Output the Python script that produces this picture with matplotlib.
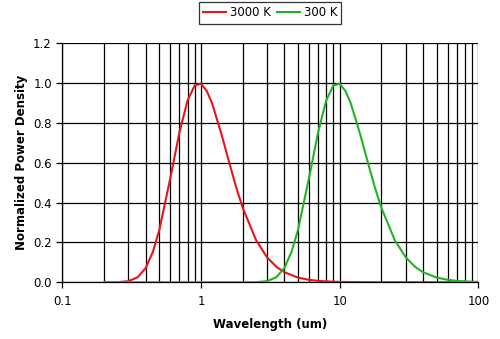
import matplotlib
matplotlib.use('Agg')
import matplotlib.pyplot as plt
from matplotlib.ticker import LogLocator, NullFormatter, FixedLocator

# wavelength samples (um) and normalized power density
WL_3000 = [0.2, 0.25, 0.3, 0.35, 0.4, 0.45, 0.5, 0.6, 0.7, 0.8, 0.9, 1.0, 1.1, 1.2, 1.4,
           1.6, 1.8, 2.0, 2.5, 3.0, 3.5, 4.0, 5.0, 6.0, 7.0, 8.0, 10.0, 15.0, 20.0, 30.0, 50.0, 100.0]
P_3000 = [0.0, 0.0006, 0.0056, 0.0255, 0.0726, 0.153, 0.261, 0.520, 0.754, 0.912, 0.988, 0.997,
          0.961, 0.901, 0.748, 0.600, 0.474, 0.374, 0.211, 0.125, 0.0776, 0.0504, 0.0238, 0.0126,
          0.0072, 0.0045, 0.0019, 0.0004, 0.0001, 0.0, 0.0, 0.0]

WL_300 = [0.2, 0.5, 1.0, 2.0, 2.5, 3.0, 3.5, 4.0, 4.5, 5.0, 6.0, 7.0, 8.0, 9.0, 10.0, 11.0, 12.0,
          14.0, 16.0, 18.0, 20.0, 25.0, 30.0, 35.0, 40.0, 50.0, 60.0, 70.0, 80.0, 100.0]
P_300 = [0.0, 0.0, 0.0, 0.0, 0.0006, 0.0056, 0.0255, 0.0726, 0.153, 0.261, 0.520, 0.754, 0.912,
         0.988, 0.997, 0.961, 0.901, 0.748, 0.600, 0.474, 0.374, 0.211, 0.125, 0.0776, 0.0504,
         0.0238, 0.0126, 0.0072, 0.0045, 0.0019]

X_TICKS = [0.1, 1, 10, 100]
X_LABELS = ['0.1', '1', '10', '100']
Y_TICKS = [0.0, 0.2, 0.4, 0.6, 0.8, 1.0, 1.2]

plt.rcParams['font.family'] = ['DejaVu Sans']

fig = plt.figure(figsize=(5.0, 3.39), dpi=100)
ax = fig.add_axes([0.1246, 0.1673, 0.832, 0.705])

ax.plot(WL_3000, P_3000, color='#e8141c', lw=1.5, label='3000 K', zorder=3)
ax.plot(WL_300, P_300, color='#22b422', lw=1.5, label='300 K', zorder=3)

ax.set_xscale('log')
ax.set_xlim(0.1, 100)
ax.set_ylim(0, 1.2)

ax.xaxis.set_major_locator(FixedLocator(X_TICKS))
ax.set_xticklabels(X_LABELS)
ax.xaxis.set_minor_locator(LogLocator(base=10, subs=range(2, 10)))
ax.xaxis.set_minor_formatter(NullFormatter())
ax.set_yticks(Y_TICKS)
ax.set_yticklabels(['%.1f' % v for v in Y_TICKS])

ax.grid(True, which='both', axis='x', color='black', lw=0.9)
ax.grid(True, which='major', axis='y', color='black', lw=0.9)

ax.tick_params(axis='both', which='major', direction='out', length=4, width=0.9,
               labelsize=8.5, colors='black')
ax.tick_params(axis='x', which='minor', length=0)
ax.tick_params(axis='x', which='major', pad=5)

for side in ['top', 'right']:
    ax.spines[side].set_visible(False)
for side in ['left', 'bottom']:
    ax.spines[side].set_color('black')
    ax.spines[side].set_linewidth(0.9)

ax.set_xlabel('Wavelength (um)', fontsize=8.5, fontweight='bold', labelpad=7)
ax.set_ylabel('Normalized Power Density', fontsize=8.5, fontweight='bold', labelpad=4)

leg = fig.legend(loc='upper center', bbox_to_anchor=(0.54, 1.0), ncol=2, fontsize=8.5,
                 frameon=True, fancybox=False, handlelength=2.0, handletextpad=0.3,
                 columnspacing=0.5, borderpad=0.35, borderaxespad=0.2)
leg.get_frame().set_edgecolor('black')
leg.get_frame().set_linewidth(0.9)

fig.savefig('out.png', dpi=100)
